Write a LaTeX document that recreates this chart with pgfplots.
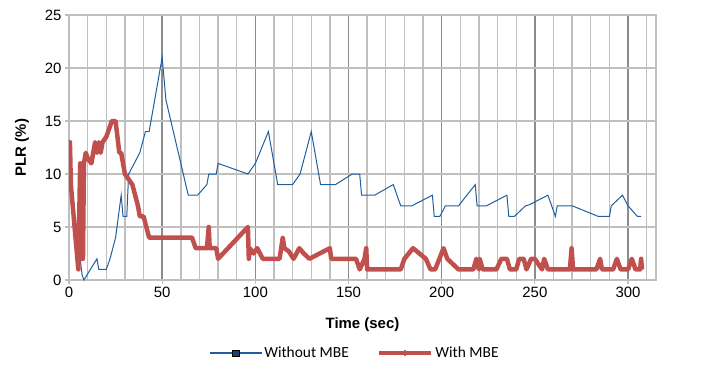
\documentclass[border=0pt]{standalone}
\usepackage{pgfplots}
\pgfplotsset{compat=1.18}
\usepackage{fontspec}
\setmainfont{Liberation Sans}
\newfontfamily\legfont{Carlito}
\definecolor{blueline}{HTML}{1F5E9F}
\definecolor{redline}{HTML}{C0504D}
\definecolor{minorgrid}{HTML}{BFBFBF}
\definecolor{majorgrid}{HTML}{8C8C8C}
\definecolor{navy}{HTML}{1F3F6F}
\begin{document}
\begin{tikzpicture}
\begin{axis}[
  scale only axis,
  width=587bp, height=265bp,
  xmin=0, xmax=315, ymin=0, ymax=25,
  xtick={0,50,...,300},
  minor xtick={10,20,...,310},
  ytick={0,5,...,25},
  grid=both,
  major x grid style={majorgrid, line width=1.4bp},
  minor x grid style={minorgrid, line width=1.4bp},
  major y grid style={minorgrid, line width=1.4bp},
  axis line style={minorgrid, line width=1.4bp},
  tick align=outside,
  major tick length=4bp,
  minor tick length=0bp,
  tick style={minorgrid, line width=1.2bp},
  xtick pos=bottom, ytick pos=left,
  ticklabel style={font=\fontsize{15}{17}\selectfont},
  /pgf/number format/assume math mode=true,
  xlabel={\textbf{Time (sec)}},
  ylabel={\textbf{PLR (\%)}},
  label style={font=\fontsize{15}{17}\selectfont},
  xlabel style={at={(axis description cs:0.5,-0.17)}, anchor=center},
  ylabel style={at={(axis description cs:-0.08,0.5)}, anchor=center},
  legend columns=2,
  legend style={draw=none, fill=none, at={(axis description cs:0.487,-0.2755)}, anchor=center,
    font=\legfont\fontsize{15.5}{17}\selectfont,
    /tikz/every even column/.append style={column sep=26bp}},
  legend cell align=left,
  legend image code/.code={\draw[mark repeat=2,mark phase=2,#1] plot coordinates {(0bp,0bp) (26bp,0bp) (52bp,0bp)};},
]
\addlegendimage{blueline, line width=1.1bp, mark=square*, mark size=3.2bp, mark options={fill=navy, draw=black, line width=0.5bp}}
\addlegendentry{Without MBE}
\addlegendimage{redline, line width=4.5bp, mark=diamond*, mark size=3bp, mark options={fill=redline, draw=redline, line width=0.5bp}}
\addlegendentry{With MBE}

\addplot[blueline, line width=1bp, forget plot] coordinates {
(6,2)(7,0.5)(8,0)(15,2)(16,1)(20,1)(22,2)(25,4)(28,8)(29,6)(31,6)(32,10)(38,12)(41,14)(43,14)(50,21)(52,17)(64,8)(69,8)(74,9)(75,10)(79,10)(80,11)(96,10)(100,11)(107,14)(112,9)(120,9)(124,10)(130,14)(135,9)(143,9)(152,10)(156,10)(157,8)(164,8)(174,9)(178,7)(184,7)(195,8)(196,6)(199,6)(202,7)(209,7)(218,9)(219,7)(224,7)(235,8)(236,6)(239,6)(245,7)(247,7.1)(257,8)(261,6)(262,7)(270,7)(284,6)(290,6)(291,7)(297,8)(300,7)(305,6)(307,6)
};
\addplot[redline, line width=4.5bp, line join=round, forget plot] coordinates {
(0,13)(0.5,13)(1,9)(3,5)(5,1)(6,11)(6.5,2)(7,11)(7.5,2)(8,11)(9,12)(10,11.5)(12,11)(14,13)(15,12)(16,13)(17,12)(18,13)(20,13.5)(23,15)(25,15)(27,12)(28,12)(30,10)(34,9)(37,7)(38,6)(40,6)(43,4)(66,4)(68,3)(74,3)(75,5)(75.5,3)(79,3)(80,2)(96,5)(96.5,2)(97,3)(99,2.5)(101,3)(104,2)(113,2)(114.7,4)(115.6,3)(118,2.7)(120.5,2)(123.6,3)(126,2.5)(129,2)(140,3)(140.7,2)(154,2)(156,1)(158.6,2)(159.5,3)(160,1)(178,1)(180,2)(184.6,3)(191.5,2)(194,1)(196.5,1)(201,3)(203,2)(209,1)(217,1)(218.6,2)(220,1)(220.4,2)(222,1)(229.4,1)(232,2)(235,2)(236.6,1)(240,1)(241.6,2)(244,2)(245.5,1)(248,2)(250,2)(253.8,1)(255,2)(257,1)(268.8,1)(269.7,3)(270.5,1)(283,1)(285,2)(286,1)(292,1)(294,2)(296,1)(300,1)(302,2)(304,1)(306.5,1)(307,2)(307.5,1)
};
\end{axis}
\path[use as bounding box] ([xshift=-69bp,yshift=-112bp]current axis.south west) rectangle ([xshift=71bp,yshift=15bp]current axis.north east);
\end{tikzpicture}
\end{document}
